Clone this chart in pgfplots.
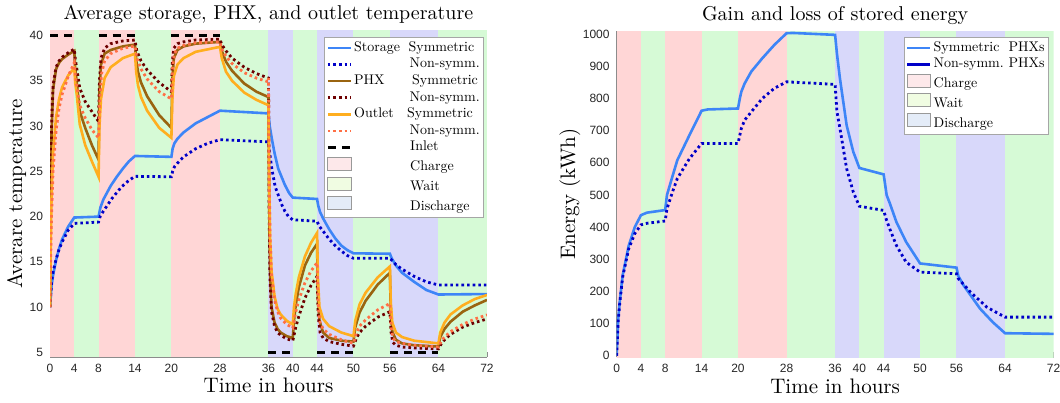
\documentclass[border=0pt]{standalone}
\usepackage{fontspec}
\usepackage{pgfplots}
\pgfplotsset{compat=1.18}
\newfontfamily\tickfont{Liberation Sans}
\newfontfamily\legfont{lmroman10-regular.otf}
\definecolor{chargec}{HTML}{FFD6D6}
\definecolor{waitc}{HTML}{D6FAD6}
\definecolor{disc}{HTML}{D8D8FA}
\definecolor{chargeleg}{HTML}{FDE8EA}
\definecolor{waitleg}{HTML}{F0FCE2}
\definecolor{disleg}{HTML}{E4ECF8}
\definecolor{ssym}{HTML}{3D85F7}
\definecolor{snon}{HTML}{0000C8}
\definecolor{psym}{HTML}{9A6410}
\definecolor{pnon}{HTML}{6E0000}
\definecolor{osym}{HTML}{FFAE1F}
\definecolor{onon}{HTML}{FF6F45}
\pgfplotsset{
 myax/.style={scale only axis, width=218.5pt, height=163pt, xmin=0, xmax=72,
  xtick={0,4,8,14,20,28,36,40,44,50,56,64,72},
  axis x line*=bottom, axis y line*=left,
  axis line style={draw=black!45, line width=0.4pt},
  major tick style={draw=black!45, line width=0.4pt}, major tick length=2.5pt, tick align=inside,
  ticklabel style={font=\tickfont\fontsize{6}{7}\selectfont, text=black!85},
  /pgf/number format/assume math mode=true, /pgf/number format/1000 sep={},
  title style={font=\fontsize{10}{12}\selectfont, at={(axis description cs:0.5,1)}, anchor=base, yshift=-0.5pt},
  xlabel style={font=\fontsize{10.5}{12}\selectfont, at={(axis description cs:0.5,0)}, anchor=base, yshift=-18pt},
  ylabel style={font=\fontsize{10.5}{12}\selectfont, at={(axis description cs:0,0.5)}, anchor=base},
  legend image code/.code={\draw[#1] (0pt,0pt) -- (11.5pt,0pt);},
  legend cell align=left,
  legend style={font=\legfont\fontsize{7}{8}\selectfont, draw=black!35, fill=white, inner xsep=1pt, inner ysep=1.5pt,
    row sep=0.75pt,
    nodes={inner ysep=0.6pt, inner xsep=1pt}, anchor=north west},
  solidl/.style={line width=1.3pt},
  dotl/.style={line width=1.4pt, dash pattern=on 1.3pt off 1.5pt},
 }
}
\newcommand{\bands}{%
 \addplot[fill=chargec, draw=none, forget plot] coordinates {(0,-100)(0,2000)(4,2000)(4,-100)} -- cycle;
 \addplot[fill=chargec, draw=none, forget plot] coordinates {(8,-100)(8,2000)(14,2000)(14,-100)} -- cycle;
 \addplot[fill=chargec, draw=none, forget plot] coordinates {(20,-100)(20,2000)(28,2000)(28,-100)} -- cycle;
 \addplot[fill=waitc, draw=none, forget plot] coordinates {(4,-100)(4,2000)(8,2000)(8,-100)} -- cycle;
 \addplot[fill=waitc, draw=none, forget plot] coordinates {(14,-100)(14,2000)(20,2000)(20,-100)} -- cycle;
 \addplot[fill=waitc, draw=none, forget plot] coordinates {(28,-100)(28,2000)(36,2000)(36,-100)} -- cycle;
 \addplot[fill=waitc, draw=none, forget plot] coordinates {(40,-100)(40,2000)(44,2000)(44,-100)} -- cycle;
 \addplot[fill=waitc, draw=none, forget plot] coordinates {(50,-100)(50,2000)(56,2000)(56,-100)} -- cycle;
 \addplot[fill=waitc, draw=none, forget plot] coordinates {(64,-100)(64,2000)(72,2000)(72,-100)} -- cycle;
 \addplot[fill=disc, draw=none, forget plot] coordinates {(36,-100)(36,2000)(40,2000)(40,-100)} -- cycle;
 \addplot[fill=disc, draw=none, forget plot] coordinates {(44,-100)(44,2000)(50,2000)(50,-100)} -- cycle;
 \addplot[fill=disc, draw=none, forget plot] coordinates {(56,-100)(56,2000)(64,2000)(64,-100)} -- cycle;
}
\newcommand{\arealegend}{%
 \addlegendimage{legend image code/.code={\draw[fill=chargeleg, draw=black!40] (0pt,-1.3pt) rectangle (11.7pt,5.2pt);}}
 \addlegendentry{\makebox[28pt][l]{}Charge}
 \addlegendimage{legend image code/.code={\draw[fill=waitleg, draw=black!40] (0pt,-1.3pt) rectangle (11.7pt,5.2pt);}}
 \addlegendentry{\makebox[28pt][l]{}Wait}
 \addlegendimage{legend image code/.code={\draw[fill=disleg, draw=black!40] (0pt,-1.3pt) rectangle (11.7pt,5.2pt);}}
 \addlegendentry{\makebox[28pt][l]{}Discharge}
}
\begin{document}
\begin{tikzpicture}
\useasboundingbox (-25pt,-22.5pt) rectangle (505pt,178.5pt);
\begin{axis}[myax, ymin=4.5, ymax=40.5, ytick={5,10,...,40},
  title={Average storage, PHX, and outlet temperature},
  xlabel={Time in hours}, ylabel={Averare temperature},
  ylabel style={yshift=14pt},
  unbounded coords=jump,
  legend style={at={(rel axis cs:0.627,0.982)}}]
\bands
% Storage symmetric
\addplot[ssym, solidl] coordinates {(0,10)(0.25,12.3)(0.5,13.5)(1,15.2)(1.5,16.5)(2,17.5)(3,18.9)(4,19.9)(8,20.0)(8.3,21.0)(8.8,21.9)(10,23.4)(11,24.4)(12,25.3)(13,26.1)(14,26.7)(20,26.6)(20.2,27.5)(20.5,28.1)(21,28.6)(22,29.3)(24,30.3)(26,31.0)(28,31.7)(36,31.4)(36.2,30.0)(36.55,28.6)(37,27.0)(37.6,25.3)(38.7,23.5)(39.4,22.6)(40,22.1)(44,21.95)(44.2,21.2)(44.5,20.5)(45,19.8)(46,18.6)(47,17.6)(48,16.8)(49,16.3)(50,15.95)(56,15.9)(56.3,15.4)(57,14.6)(58,13.8)(60,12.8)(62,11.9)(64,11.4)(72,11.45)};
\addlegendentry{\makebox[27.2pt][l]{Storage}Symmetric}
% Storage non-symm
\addplot[snon, dotl] coordinates {(0,10)(0.25,12.7)(0.5,13.9)(1,15.3)(1.5,16.4)(2,17.2)(3,18.5)(4,19.25)(8,19.4)(8.3,20.1)(9.1,20.9)(10.2,22.0)(11.8,23.3)(13,24.0)(14,24.45)(20,24.4)(20.2,25.0)(20.5,25.5)(21,25.9)(22,26.6)(24,27.5)(26,28.1)(28,28.5)(36,28.25)(36.2,27.0)(36.55,25.3)(37.1,23.3)(37.6,22.4)(38.2,21.3)(38.7,20.6)(39.3,20.0)(40,19.65)(44,19.5)(44.3,19.0)(45,18.4)(46,17.5)(47,16.8)(48,16.2)(49,15.7)(50,15.4)(56,15.4)(56.3,15.2)(57,14.7)(58,14.2)(60,13.4)(62,12.8)(64,12.45)(72,12.45)};
\addlegendentry{\makebox[27.7pt][l]{}Non-symm.}
% PHX symmetric
\addplot[psym, solidl] coordinates {(0,10)(0.1,20)(0.25,29)(0.5,34)(1,36.3)(1.5,37.0)(2,37.4)(3,37.9)(4,38.3)(4.15,36.3)(4.4,34.9)(4.9,31.6)(5.8,29.8)(6.9,27.9)(8,26.3)(8.15,34)(8.4,36.8)(9,38.0)(10,38.4)(12,38.8)(14,39.0)(14.2,37.3)(14.5,36.0)(15,34.8)(16,33.3)(18,31.2)(20,29.8)(20.15,35)(20.4,37.5)(21,38.4)(22,38.8)(24,39.1)(28,39.3)(28.3,38.3)(29,37.1)(30,36.1)(32,34.7)(34,33.8)(36,33.2)(36.1,22)(36.25,14)(36.5,10)(37,8.3)(37.5,7.6)(38,7.2)(39,6.8)(40,6.6)(40.2,8.5)(40.5,10.3)(41,12.2)(42,14.6)(43,16.0)(44,17.0)(44.15,11)(44.4,8.5)(45,7.2)(46,6.6)(48,6.3)(50,6.2)(50.3,7.8)(51,9.4)(52,10.7)(54,12.5)(56,13.8)(56.15,9.5)(56.4,7.3)(57,6.4)(58,6.0)(60,5.8)(64,5.65)(64.3,6.7)(65,7.6)(66,8.4)(68,9.5)(70,10.2)(72,10.8)};
\addlegendentry{\makebox[29pt][l]{PHX}Symmetric}
% PHX non-symm
\addplot[pnon, dotl] coordinates {(0,10)(0.1,21)(0.25,30)(0.5,34.5)(1,36.5)(1.5,37.2)(2,37.6)(3,38.1)(4,38.5)(4.15,37.5)(4.4,36.4)(4.9,34.2)(5.8,32.7)(6.9,31.6)(8,30.5)(8.15,35)(8.4,37.5)(9,38.6)(10,39.1)(12,39.4)(14,39.5)(14.3,38.3)(15,37.2)(16,36.2)(18,34.8)(20,33.8)(20.15,37)(20.4,38.6)(21,39.1)(22,39.3)(24,39.5)(28,39.6)(28.3,39.0)(29,38.3)(30,37.5)(32,36.5)(34,35.8)(36,35.3)(36.1,21)(36.25,13)(36.5,9.5)(37,7.9)(37.5,7.2)(38,6.9)(39,6.5)(40,6.3)(40.5,7.8)(41,9.0)(42,11.0)(43,12.4)(44,13.4)(44.2,9)(44.5,7.2)(45,6.6)(46,6.2)(48,5.9)(50,5.7)(50.5,6.6)(51,7.2)(52,7.9)(54,8.9)(56,9.5)(56.2,7.2)(56.5,6.1)(57,5.8)(58,5.6)(60,5.5)(64,5.4)(64.5,6.0)(65,6.4)(66,7.0)(68,7.8)(70,8.3)(72,8.7)};
\addlegendentry{\makebox[27.7pt][l]{}Non-symm.}
% Outlet symmetric
\addplot[osym, solidl] coordinates {(0,10)(0.1,16)(0.25,22)(0.5,27)(1,31)(1.5,33)(2,34.3)(3,35.6)(4,36.4)(4.15,34.8)(4.4,33.5)(4.9,30.2)(5.8,27.9)(6.9,26.1)(8,24.4)(8.15,30)(8.4,33)(9,35.3)(10,36.5)(12,37.5)(14,38.0)(14.2,36)(14.5,34.5)(15,33.2)(16,31.7)(18,29.8)(20,28.7)(20.15,33)(20.4,35.5)(21,36.8)(22,37.5)(24,38.2)(28,38.75)(28.3,37.5)(29,36)(30,35)(32,33.7)(34,32.9)(36,32.3)(36.1,25)(36.25,18)(36.5,14)(37,11.2)(37.5,9.8)(38,9.2)(39,8.5)(40,8.1)(40.2,10)(40.5,11.5)(41,13.3)(42,15.6)(43,17.1)(44,18.2)(44.15,13)(44.4,10)(45,8.7)(46,7.9)(48,7.2)(50,6.8)(50.3,8.5)(51,10.3)(52,11.6)(54,13.3)(56,14.5)(56.15,10.5)(56.4,8.3)(57,7.2)(58,6.7)(60,6.3)(64,6.0)(64.3,7.2)(65,8.3)(66,9.2)(68,10.2)(70,10.9)(72,11.35)};
\addlegendentry{\makebox[26.5pt][l]{Outlet}Symmetric}
% Outlet non-symm
\addplot[onon, dotl] coordinates {(0,10)(0.1,15)(0.25,20)(0.5,25)(1,29.5)(1.5,32)(2,33.5)(3,35.5)(4,37.0)(4.15,35.8)(4.4,34.5)(4.9,32.3)(5.8,30.9)(6.9,29.6)(8,28.7)(8.2,33)(8.5,35.8)(9,37.2)(10,38.0)(12,38.6)(14,38.85)(14.3,37.5)(15,36.3)(16,35.2)(18,33.8)(20,33.0)(20.2,36.5)(20.5,38)(21,38.6)(22,38.9)(24,39.2)(28,39.3)(28.3,38.5)(29,37.7)(30,36.9)(32,35.9)(34,35.3)(35.9,34.9)(36,35.3)(36.1,25)(36.25,18)(36.5,13.5)(37,10.8)(37.5,9.5)(38,8.8)(39,8.1)(40,7.7)(40.5,9.5)(41,10.8)(42,12.7)(43,14.0)(44,14.9)(44.2,10)(44.5,8.3)(45,7.6)(46,7.0)(48,6.4)(50,6.0)(50.5,7.2)(51,7.9)(52,8.6)(54,9.7)(56,10.4)(56.2,7.8)(56.5,6.6)(57,6.2)(58,6.0)(60,5.8)(64,5.6)(64.5,6.3)(65,6.7)(66,7.3)(68,8.1)(70,8.7)(72,9.15)};
\addlegendentry{\makebox[27.7pt][l]{}Non-symm.}
% Inlet
\addplot[black, line width=1.3pt, dash pattern=on 4pt off 3pt] coordinates {(0,40)(4,40)(4,nan)(8,40)(14,40)(14,nan)(20,40)(28,40)(28,nan)(36,5)(40,5)(40,nan)(44,5)(50,5)(50,nan)(56,5)(64,5)};
\addlegendentry{\makebox[28pt][l]{}Inlet}
\arealegend
\end{axis}
\begin{axis}[myax, at={(283.3pt,0pt)}, ymin=-4, ymax=1010, ytick={0,100,...,1000},
  title={Gain and loss of stored energy},
  xlabel={Time in hours}, ylabel={Energy (kWh)},
  ylabel style={yshift=20.8pt},
  legend style={at={(rel axis cs:0.657,0.982)}}]
\bands
\addplot[ssym, solidl] coordinates {(0,0)(0.25,110)(0.5,165)(1,250)(2,343)(3,400)(4,437)(5,445)(8,453)(8.3,500)(9,545)(10,608)(12,686)(14,762)(15,766)(20,769)(20.3,800)(20.55,821)(21.1,847)(22.2,884)(24,925)(26,967)(28,1003)(29,1004)(36,998)(36.3,940)(36.8,862)(37.9,717)(39,634)(40,584)(44,564)(44.5,499)(45,475)(46.1,416)(47.7,354)(50,287)(56,274)(56.3,248)(57.2,218)(59.9,146)(62,104)(64,70)(72,68)};
\addlegendentry{\makebox[37.5pt][l]{Symmetric}PHXs}
\addplot[snon, dotl, forget plot] coordinates {(0,0)(0.25,105)(0.5,160)(1,245)(2,333)(3,380)(4,407)(5,412)(8,419)(8.3,457)(9.2,509)(10,551)(12,613)(14,660)(20,660)(20.55,707)(21.1,733)(22,754)(24,800)(26,832)(28,852)(36,844)(36.3,760)(36.8,707)(37.9,582)(39,509)(40,465)(44,452)(44.5,420)(45,395)(46.1,343)(47.7,291)(50,260)(56,255)(56.3,240)(58.3,198)(61,151)(64,120)(72,120)};
\addlegendimage{snon, line width=1.3pt}
\addlegendentry{\makebox[37.5pt][l]{Non-symm.}PHXs}
\addlegendimage{legend image code/.code={\draw[fill=chargeleg, draw=black!40] (0pt,-1.3pt) rectangle (11.7pt,5.2pt);}}
\addlegendentry{Charge}
\addlegendimage{legend image code/.code={\draw[fill=waitleg, draw=black!40] (0pt,-1.3pt) rectangle (11.7pt,5.2pt);}}
\addlegendentry{Wait}
\addlegendimage{legend image code/.code={\draw[fill=disleg, draw=black!40] (0pt,-1.3pt) rectangle (11.7pt,5.2pt);}}
\addlegendentry{Discharge}
\end{axis}
\end{tikzpicture}
\end{document}
